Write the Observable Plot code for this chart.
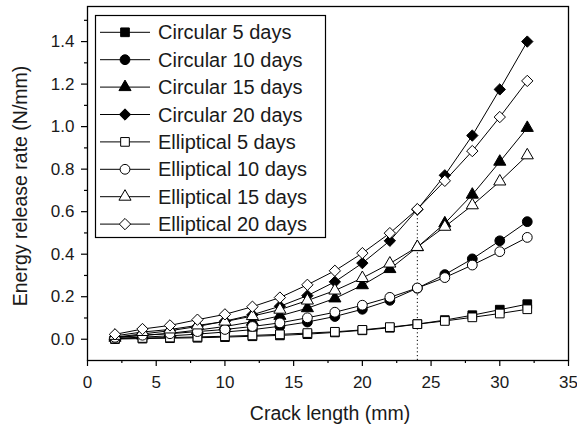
<!DOCTYPE html>
<html><head><meta charset="utf-8">
<script src="https://cdn.jsdelivr.net/npm/d3@7"></script>
<script src="https://cdn.jsdelivr.net/npm/@observablehq/plot@0.6"></script>
<style>
html,body{margin:0;padding:0;background:#fff;}
#chart{width:577px;height:428px;}
svg{font-family:"Liberation Sans",Arial,Helvetica,sans-serif;}
</style></head><body><div id="chart"></div>
<script>
// ---- data ----
const crackLength = [2,4,6,8,10,12,14,16,18,20,22,24,26,28,30,32];
const seriesNames = ["Circular 5 days","Circular 10 days","Circular 15 days","Circular 20 days",
  "Elliptical 5 days","Elliptical 10 days","Elliptical 15 days","Elliptical 20 days"];
const circular5  = [0.001,0.003,0.005,0.007,0.010,0.014,0.018,0.024,0.032,0.042,0.054,0.071,0.090,0.113,0.139,0.165];
const circular10 = [0.004,0.010,0.016,0.024,0.034,0.045,0.061,0.081,0.107,0.141,0.183,0.240,0.304,0.378,0.463,0.553];
const circular15 = [0.007,0.018,0.028,0.043,0.060,0.082,0.110,0.146,0.192,0.254,0.330,0.433,0.545,0.680,0.835,0.994];
const circular20 = [0.010,0.025,0.040,0.060,0.085,0.115,0.155,0.205,0.270,0.358,0.463,0.610,0.771,0.958,1.175,1.400];
const elliptical5  = [0.003,0.006,0.008,0.011,0.014,0.018,0.023,0.029,0.035,0.044,0.057,0.071,0.086,0.103,0.121,0.141];
const elliptical10 = [0.009,0.019,0.026,0.036,0.046,0.060,0.077,0.101,0.127,0.160,0.197,0.241,0.290,0.349,0.412,0.479];
const elliptical15 = [0.016,0.034,0.046,0.065,0.083,0.109,0.139,0.182,0.229,0.288,0.356,0.434,0.529,0.630,0.742,0.865];
const elliptical20 = [0.023,0.048,0.065,0.092,0.117,0.153,0.196,0.256,0.322,0.405,0.499,0.612,0.745,0.885,1.045,1.215];
const xTicks = [0,5,10,15,20,25,30,35];
const xMinorTicks = [2.5,7.5,12.5,17.5,22.5,27.5,32.5];
const yTicks = [0,0.2,0.4,0.6,0.8,1.0,1.2,1.4];
const yMinorTicks = [0.1,0.3,0.5,0.7,0.9,1.1,1.3,1.5];
const markerLength = 24;   // crack length of the dotted marker line
const xTitle = "Crack length (mm)";
const yTitle = "Energy release rate (N/mm)";

// ---- styles ----
const allValues = [circular5,circular10,circular15,circular20,elliptical5,elliptical10,elliptical15,elliptical20];
const styles = [
  {symbol:"square", d3s:d3.symbolSquare, r:4.9, fill:"black"},
  {symbol:"circle", d3s:d3.symbolCircle, r:4.9, fill:"black"},
  {symbol:"triangle", d3s:d3.symbolTriangle, r:4.5, fill:"black"},
  {symbol:"diamond2", d3s:d3.symbolDiamond2, r:5.1, fill:"black"},
  {symbol:"square", d3s:d3.symbolSquare, r:4.9, fill:"white"},
  {symbol:"circle", d3s:d3.symbolCircle, r:4.9, fill:"white"},
  {symbol:"triangle", d3s:d3.symbolTriangle, r:4.5, fill:"white"},
  {symbol:"diamond2", d3s:d3.symbolDiamond2, r:5.1, fill:"white"}
];

const rows = seriesNames.map((name, i) =>
  crackLength.map((x, j) => ({series: name, x, y: allValues[i][j]})));

const markerIdx = crackLength.indexOf(markerLength);
const markerTop = Math.max(circular20[markerIdx], elliptical20[markerIdx]);

const marks = [
  Plot.ruleX([markerLength], {y1: -0.1, y2: markerTop, stroke: "black", strokeWidth: 1, strokeDasharray: "1.2,2.6"}),
];
rows.forEach((d, i) => {
  const s = styles[i];
  marks.push(Plot.line(d, {x: "x", y: "y", stroke: "black", strokeWidth: 1}));
  marks.push(Plot.dot(d, {x: "x", y: "y", symbol: () => s.symbol, r: s.r, fill: s.fill, stroke: "black", strokeWidth: 1}));
});
marks.push(
  Plot.frame({stroke: "black", strokeWidth: 1.3}),
  Plot.axisX({ticks: xTicks, tickSize: 6, tickPadding: 9, tickFormat: d => d, label: null, stroke: "black", strokeWidth: 1.2, fill: "#1a1a1a"}),
  Plot.axisX({ticks: xMinorTicks, tickSize: 3, tickFormat: () => "", label: null, stroke: "black", strokeWidth: 1.2}),
  Plot.axisY({ticks: yTicks, tickSize: 6, tickPadding: 7, tickFormat: d3.format(".1f"), label: null, stroke: "black", strokeWidth: 1.2, fill: "#1a1a1a"}),
  Plot.axisY({ticks: yMinorTicks, tickSize: 3, tickFormat: () => "", label: null, stroke: "black", strokeWidth: 1.2})
);

const plot = Plot.plot({
  width: 577, height: 428,
  marginLeft: 87, marginRight: 9, marginTop: 6, marginBottom: 68,
  x: {domain: [0, 35], label: null},
  y: {domain: [-0.1, 1.565], label: null},
  symbol: {type: "identity"},
  style: {fontSize: "17px", fontFamily: "'Liberation Sans', Arial, sans-serif", color: "black", background: "white"},
  marks
});
document.getElementById("chart").append(plot);

// ---- titles and legend ----
const svg = d3.select(plot);
svg.append("text").attr("x", 330).attr("y", 420).attr("text-anchor", "middle")
  .attr("font-size", 19.5).attr("fill", "#1a1a1a").text(xTitle);
svg.append("text").attr("transform", "translate(27,186) rotate(-90)").attr("text-anchor", "middle")
  .attr("font-size", 19.5).attr("fill", "#1a1a1a").text(yTitle);

const lg = svg.append("g");
lg.append("rect").attr("x", 95.5).attr("y", 15.5).attr("width", 230).attr("height", 222)
  .attr("fill", "white").attr("stroke", "black").attr("stroke-width", 1.2);
seriesNames.forEach((name, i) => {
  const cy = 32.3 + i * 27.4;
  const s = styles[i];
  lg.append("line").attr("x1", 100).attr("x2", 150).attr("y1", cy).attr("y2", cy).attr("stroke", "black").attr("stroke-width", 1);
  lg.append("path").attr("d", d3.symbol(s.d3s, Math.PI * s.r * s.r)())
    .attr("transform", `translate(125,${cy})`).attr("fill", s.fill).attr("stroke", "black").attr("stroke-width", 1);
  lg.append("text").attr("x", 158).attr("y", cy).attr("dy", "0.35em").attr("text-anchor", "start").attr("font-size", 20)
    .attr("fill", "#1a1a1a").text(name);
});
</script>
</body></html>
